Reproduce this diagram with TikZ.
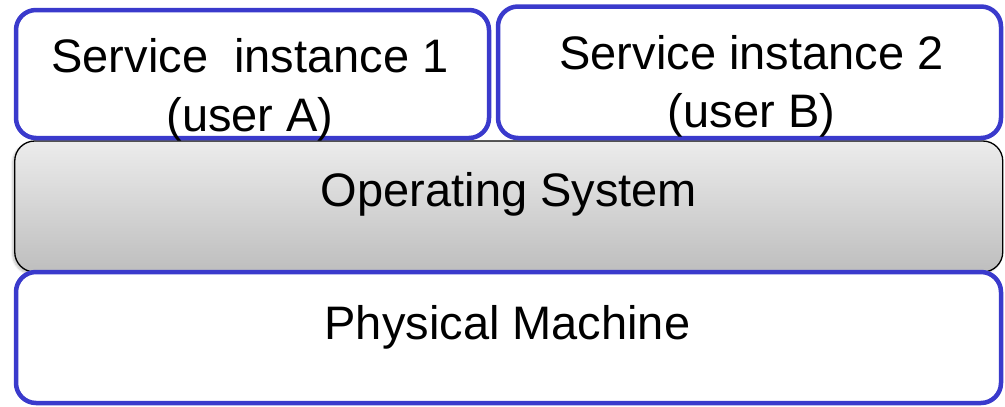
\documentclass[tikz,border=0pt]{standalone}
\usepackage{fontspec}
\setmainfont{Liberation Sans}
\usetikzlibrary{shadows.blur}
\definecolor{layerblue}{RGB}{58,58,204}
\definecolor{osTop}{RGB}{236,236,236}
\definecolor{osBottom}{RGB}{190,190,190}
\begin{document}
\begin{tikzpicture}[x=1pt,y=-1pt,
  layer/.style={draw=layerblue, line width=4.5pt, fill=white, rounded corners=20pt,
    rectangle, inner sep=0pt},
  oslayer/.style={draw=black, line width=1.3pt, rounded corners=20pt,
    top color=osTop, bottom color=osBottom, rectangle, inner sep=0pt,
    blur shadow={shadow xshift=-2pt, shadow yshift=-2pt, shadow blur steps=6, shadow opacity=25}},
  caption/.style={font=\fontsize{47}{56}\selectfont, anchor=base, inner sep=0pt}
]
\useasboundingbox (0,0) rectangle (1005,407);

% operating system layer (shaded, sits between the two blue tiers)
\node[oslayer, minimum width=988pt, minimum height=131pt] (os) at (508.75,206.5) {};

% service instances on top
\node[layer, minimum width=473pt, minimum height=128pt] (svc1) at (252.5,74) {};
\node[layer, minimum width=503pt, minimum height=131.5pt] (svc2) at (749.5,72.25) {};

% hardware at the bottom
\node[layer, minimum width=985pt, minimum height=131pt] (hw) at (508.5,337.5) {};

% captions
\node[caption] (svc1a) at (250,72) {Service\ \ instance 1};
\node[caption] (svc1b) at (250,131) {(user A)};
\node[caption] (svc2a) at (751.5,69) {Service instance 2};
\node[caption] (svc2b) at (751.5,127) {(user B)};
\node[caption] (ostext) at (509,206) {Operating System};
\node[caption] (hwtext) at (507.5,339) {Physical Machine};
\end{tikzpicture}
\end{document}
